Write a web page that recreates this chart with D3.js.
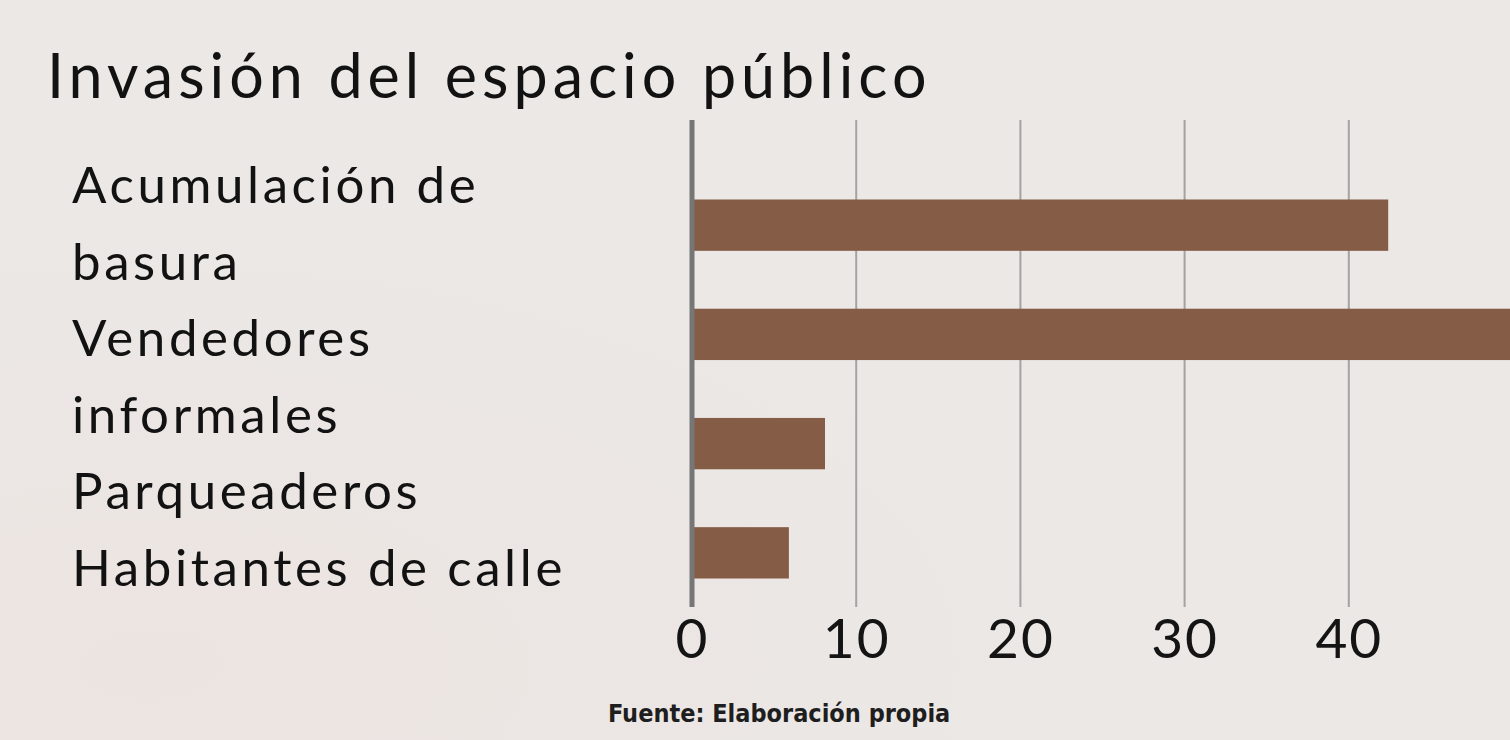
<!DOCTYPE html>
<html>
<head>
	<title>Invasión del espacio público</title>
	<meta charset="utf-8">
	<script src="https://cdnjs.cloudflare.com/ajax/libs/d3/7.8.5/d3.min.js"></script>
</head>
<style type="text/css">
body
{
	margin: 0;
	background-color: #ebe8e6;
	overflow: hidden;
}
.tick text
{
	font-family: Lato, sans-serif;
	fill: #141414;
}
</style>
<body>
</body>
</html>
<script type="text/javascript">
	var w = 1510;
	var h = 740;

	// data
	var categories = ["Acumulación de basura", "Vendedores informales", "Parqueaderos", "Habitantes de calle"];
	var labelLines = [["Acumulación de", "basura"], ["Vendedores", "informales"], ["Parqueaderos"], ["Habitantes de calle"]];
	var values = [42.4, 52, 8.1, 5.9];
	var tickValues = [0, 10, 20, 30, 40];
	var gridValues = [10, 20, 30, 40];

	var plotTop = 120, plotBottom = 607;

	var svg = d3.select("body").append("svg").attr("width", w).attr("height", h);

	// soft background
	var defs = svg.append("defs");
	var grad = defs.append("radialGradient").attr("id", "bg").attr("cx", "0.1").attr("cy", "0.9").attr("r", "0.6");
	grad.append("stop").attr("offset", "0").attr("stop-color", "#ece4e1");
	grad.append("stop").attr("offset", "1").attr("stop-color", "#ebe8e6");
	svg.append("rect").attr("width", w).attr("height", h).attr("fill", "url(#bg)");

	var x = d3.scaleLinear()
				.domain([0, 50])
				.range([692, 1513]);
	var y = d3.scaleBand()
				.domain(categories)
				.range([170, 608])
				.paddingInner(0.53)
				.paddingOuter(0.27);

	// title
	svg.append("text")
		.attr("x", 47)
		.attr("y", 98)
		.attr("font-family", "Lato, sans-serif")
		.attr("font-size", 61)
		.attr("letter-spacing", 5)
		.attr("fill", "#121212")
		.text("Invasión del espacio público");

	// gridlines
	svg.append("g").selectAll("line").data(gridValues).enter().append("line")
		.attr("x1", function(d){return x(d)})
		.attr("x2", function(d){return x(d)})
		.attr("y1", plotTop)
		.attr("y2", plotBottom)
		.attr("stroke", "#a3a3a3")
		.attr("stroke-width", 2);

	// bars
	svg.append("g").selectAll("rect").data(values).enter().append("rect")
		.attr("x", x(0))
		.attr("y", function(d,i){return y(categories[i])})
		.attr("width", function(d){return x(d) - x(0)})
		.attr("height", y.bandwidth())
		.attr("fill", "#855c46");

	// zero axis line
	svg.append("line")
		.attr("x1", x(0)).attr("x2", x(0))
		.attr("y1", plotTop).attr("y2", plotBottom)
		.attr("stroke", "#767676")
		.attr("stroke-width", 5);

	// x axis labels
	var xaxis = d3.axisBottom(x).tickValues(tickValues).tickSize(0).tickPadding(0);
	var gx = svg.append("g").attr("transform", "translate(0,618)").call(xaxis);
	gx.select(".domain").remove();
	gx.selectAll(".tick text")
		.attr("dy", null)
		.attr("y", 40)
		.attr("font-size", 55)
		.attr("letter-spacing", 2);

	// category labels, flowed as one text block
	var lines = [];
	labelLines.forEach(function(l){ l.forEach(function(t){ lines.push(t); }); });
	svg.append("g").selectAll("text").data(lines).enter().append("text")
		.attr("x", 72)
		.attr("y", function(d,i){return 203 + i*76.6})
		.attr("font-family", "Lato, sans-serif")
		.attr("font-size", 51)
		.attr("letter-spacing", 3.6)
		.attr("fill", "#121212")
		.text(function(d){return d});

	// source
	svg.append("text")
		.attr("x", 608)
		.attr("y", 722)
		.attr("font-family", "'DejaVu Sans Condensed', sans-serif")
		.attr("font-weight", "bold")
		.attr("font-size", 25)
		.attr("fill", "#1e1e1e")
		.text("Fuente: Elaboración propia");
</script>
